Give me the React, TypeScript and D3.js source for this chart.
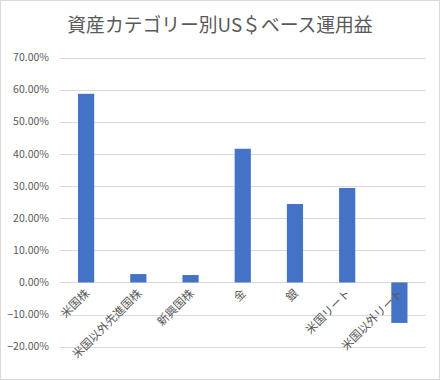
import React from "react";
import * as d3 from "d3";

const categories = ["米国株", "米国以外先進国株", "新興国株", "金", "銀", "米国リート", "米国以外リート"];
const values = [0.587, 0.026, 0.023, 0.416, 0.244, 0.294, -0.126];
const yTicks = [-0.2, -0.1, 0, 0.1, 0.2, 0.3, 0.4, 0.5, 0.6, 0.7];
const title = "資産カテゴリー別US＄ベース運用益";

const W = 440;
const H = 380;
const FONT = "'Noto Sans CJK JP', 'Noto Sans', sans-serif";

export default function App() {
  const x = d3.scaleBand<string>().domain(categories).range([60, 425.5]).paddingInner(0.69).paddingOuter(0.345);
  const y = d3.scaleLinear().domain([-0.2, 0.7]).range([346.7, 57.5]);
  const fmt = d3.format(".2%");
  return (
    <svg width={W} height={H} style={{ position: "absolute", left: 0, top: 0 }}>
      <rect x={0.5} y={0.5} width={W - 1} height={H - 1} fill="#fff" stroke="#D9D9D9" />
      <text x={220} y={32} textAnchor="middle" fontFamily={FONT} fontSize={18.8} fill="#595959">
        {title}
      </text>
      {yTicks.map((t) => (
        <g key={t}>
          <line x1={59.5} x2={425.5} y1={Math.round(y(t)) + 0.5} y2={Math.round(y(t)) + 0.5} stroke="#D9D9D9" strokeWidth={1} />
          <text x={49} y={y(t)} dy="0.35em" textAnchor="end" fontFamily={FONT} fontSize={10.5} fill="#595959">
            {fmt(t)}
          </text>
        </g>
      ))}
      {categories.map((c, i) => {
        const v = values[i];
        const bx = x(c)!;
        const y0 = y(0);
        const y1 = y(v);
        return (
          <rect key={c} x={bx} width={x.bandwidth()} y={Math.min(y0, y1)} height={Math.abs(y1 - y0)} fill="#4472C4" />
        );
      })}
      {categories.map((c) => {
        const cx = x(c)! + x.bandwidth() / 2;
        const lx = cx + 4;
        const ly = 294;
        return (
          <text key={c} x={lx} y={ly} textAnchor="end" fontFamily={FONT} fontSize={11.5} fill="#595959" transform={`rotate(-45 ${lx} ${ly})`}>
            {c}
          </text>
        );
      })}
    </svg>
  );
}
